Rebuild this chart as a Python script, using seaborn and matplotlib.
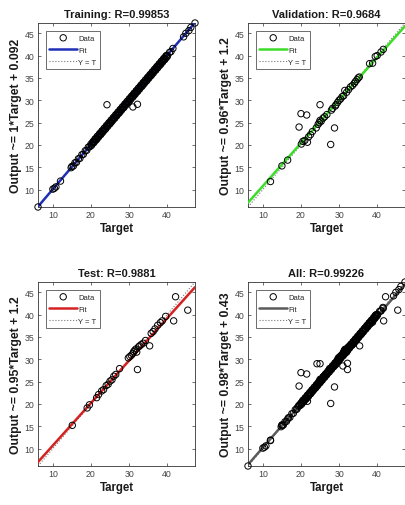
import matplotlib
matplotlib.use("Agg")
import numpy as np
import pandas as pd
import seaborn as sns
import matplotlib.pyplot as plt

# ---------------- data ----------------
train_target = [6.1, 10.0, 10.4, 10.8, 12.0, 14.8, 15.0, 15.4, 15.8, 16.2,
                16.7, 17.1, 17.6, 18.0, 18.5, 18.9, 19.3, 19.7, 20.0, 20.3,
                20.6, 20.9, 21.2, 21.5, 21.8, 22.1, 22.4, 22.7, 23.0, 23.3,
                23.6, 23.9, 24.2, 24.5, 24.8, 25.1, 25.4, 25.7, 26.0, 26.3,
                26.6, 26.9, 27.2, 27.5, 27.8, 28.1, 28.4, 28.7, 29.0, 29.3,
                29.6, 29.9, 30.2, 30.5, 30.8, 31.1, 31.4, 31.7, 32.0, 32.3,
                32.6, 32.9, 33.2, 33.5, 33.8, 34.1, 34.4, 34.7, 35.0, 35.3,
                35.6, 35.9, 36.2, 36.5, 36.8, 37.1, 37.4, 37.7, 38.0, 38.3,
                38.6, 38.9, 39.2, 39.5, 39.8, 40.1, 40.6, 41.0, 41.5, 44.3,
                44.9, 45.7, 46.2, 47.3, 24.2, 31.0, 32.2,
                20.15, 20.45, 20.75, 21.05, 21.35, 21.65, 21.95, 22.25, 22.55, 22.85,
                23.15, 23.45, 23.75, 24.05, 24.35, 24.65, 24.95, 25.25, 25.55, 25.85,
                26.15, 26.45, 26.75, 27.05, 27.35, 27.65, 27.95, 28.25, 28.55, 28.85,
                29.15, 29.45, 29.75, 30.05, 30.35, 30.65, 30.95, 31.25, 31.55, 31.85,
                32.15, 32.45, 32.75, 33.05, 33.35, 33.65, 33.95, 34.25, 34.55, 34.85,
                35.15, 35.45, 35.75, 36.05, 36.35, 36.65, 36.95, 37.25, 37.55, 37.85,
                38.15, 38.45, 38.75, 39.05, 39.35, 39.65, 39.95]
train_output = [6.1, 10.1, 10.3, 10.6, 11.9, 14.9, 15.2, 15.3, 16.0, 16.1,
                16.9, 17.0, 17.8, 17.9, 18.7, 18.8, 19.5, 19.6, 20.2, 20.2,
                20.8, 20.8, 21.4, 21.3, 22.0, 22.0, 22.6, 22.5, 23.2, 23.2,
                23.8, 23.7, 24.4, 24.4, 25.0, 24.9, 25.6, 25.6, 26.2, 26.1,
                26.8, 26.8, 27.4, 27.3, 28.0, 28.0, 28.6, 28.5, 29.2, 29.2,
                29.8, 29.7, 30.4, 30.4, 31.0, 30.9, 31.6, 31.6, 32.2, 32.1,
                32.8, 32.8, 33.4, 33.3, 34.0, 34.0, 34.6, 34.5, 35.2, 35.2,
                35.8, 35.7, 36.4, 36.4, 37.0, 36.9, 37.6, 37.6, 38.2, 38.1,
                38.8, 38.8, 39.4, 39.3, 40.0, 40.0, 40.7, 40.9, 41.6, 44.2,
                45.0, 45.6, 46.3, 47.3, 29.0, 28.5, 29.1,
                19.9, 20.6, 20.5, 21.3, 21.1, 21.9, 21.7, 22.5, 22.3, 23.1,
                22.9, 23.7, 23.5, 24.3, 24.1, 24.9, 24.7, 25.5, 25.3, 26.1,
                25.9, 26.7, 26.5, 27.3, 27.1, 27.9, 27.7, 28.5, 28.3, 29.1,
                28.9, 29.7, 29.5, 30.3, 30.1, 30.9, 30.7, 31.5, 31.3, 32.1,
                31.9, 32.7, 32.5, 33.3, 33.1, 33.9, 33.7, 34.5, 34.3, 35.1,
                34.9, 35.7, 35.5, 36.3, 36.1, 36.9, 36.7, 37.5, 37.3, 38.1,
                37.9, 38.7, 38.5, 39.3, 39.1, 39.9, 39.7]

val_target = [12.0, 15.0, 16.5, 19.5, 20.0, 20.1, 20.5, 21.0, 21.5, 21.7,
              22.0, 22.5, 23.0, 24.0, 24.5, 24.8, 25.0, 25.0, 25.3, 25.8,
              26.2, 26.8, 27.8, 28.0, 28.3, 28.8, 29.0, 29.2, 29.6, 30.0,
              30.4, 30.8, 31.2, 31.5, 32.0, 32.5, 33.0, 33.5, 34.0, 34.3,
              34.7, 35.0, 35.3, 38.0, 38.8, 39.5, 40.0, 41.0, 41.6]
val_output = [11.8, 15.3, 16.6, 24.0, 27.0, 20.2, 20.8, 21.0, 26.7, 20.6,
              21.8, 22.3, 23.0, 23.8, 24.6, 25.0, 29.0, 25.5, 25.3, 26.0,
              26.3, 26.8, 20.1, 27.8, 28.2, 23.8, 28.7, 29.0, 29.5, 30.0,
              30.3, 30.8, 31.0, 32.2, 31.8, 32.4, 33.0, 33.3, 33.8, 34.2,
              34.6, 35.0, 35.2, 38.2, 38.3, 39.8, 40.0, 40.8, 41.4]

test_target = [15.1, 19.0, 19.6, 21.5, 22.0, 22.8, 23.3, 24.0, 24.5, 25.0,
               25.5, 26.0, 26.5, 27.5, 29.8, 30.2, 30.6, 31.0, 31.2, 31.5,
               31.8, 32.0, 32.2, 32.5, 32.8, 33.2, 33.7, 34.3, 35.4, 35.8,
               36.3, 36.8, 37.5, 38.2, 38.7, 39.6, 41.7, 42.2, 45.4]
test_output = [15.2, 19.1, 19.8, 21.4, 22.1, 22.9, 23.2, 24.1, 24.4, 25.1,
               25.4, 26.2, 26.6, 27.9, 30.3, 30.6, 30.9, 31.3, 31.7, 32.0,
               32.3, 31.6, 27.7, 32.8, 33.0, 33.3, 33.6, 34.2, 33.0, 35.8,
               36.2, 36.8, 37.6, 38.2, 38.6, 39.6, 38.6, 44.0, 41.0]

titles = ["Training: R=0.99853", "Validation: R=0.9684",
          "Test: R=0.9881", "All: R=0.99226"]
fit_slopes = [1.0, 0.96, 0.95, 0.98]
fit_intercepts = [0.092, 1.2, 1.2, 0.43]
ylabels = ["Output ~= 1*Target + 0.092", "Output ~= 0.96*Target + 1.2",
           "Output ~= 0.95*Target + 1.2", "Output ~= 0.98*Target + 0.43"]
fit_colors = ["#1f2fb8", "#3ddc2a", "#d42222", "#5a5a5a"]
x_ticks = [10, 20, 30, 40]
y_ticks = [10, 15, 20, 25, 30, 35, 40, 45]

# ---------------- build frames ----------------
all_target = train_target + val_target + test_target
all_output = train_output + val_output + test_output
frames = [
    pd.DataFrame({"Target": train_target, "Output": train_output}),
    pd.DataFrame({"Target": val_target, "Output": val_output}),
    pd.DataFrame({"Target": test_target, "Output": test_output}),
    pd.DataFrame({"Target": all_target, "Output": all_output}),
]
lo = min(min(all_target), min(all_output))
hi = max(max(all_target), max(all_output))

# ---------------- style ----------------
sns.set_theme(style="ticks")
plt.rcParams["font.family"] = ["Liberation Sans", "DejaVu Sans"]
plt.rcParams["axes.edgecolor"] = "#333333"
plt.rcParams["axes.linewidth"] = 0.6
plt.rcParams["xtick.color"] = "#333333"
plt.rcParams["ytick.color"] = "#333333"

fig = plt.figure(figsize=(4.05, 5.06), dpi=100)
W, H = 405.0, 506.0
boxes = [(38, 24), (248, 24), (38, 283), (248, 283)]
aw, ah = 157.0, 184.0

for i, (bx, by) in enumerate(boxes):
    ax = fig.add_axes([bx / W, 1 - (by + ah) / H, aw / W, ah / H])
    df = frames[i]
    ax.axline((0, 0), slope=1, color="#777777", ls=":", lw=0.8,
              label="Y = T", zorder=2)
    ax.axline((0, fit_intercepts[i]), slope=fit_slopes[i],
              color=fit_colors[i], lw=1.8, label="Fit", zorder=3)
    sns.scatterplot(data=df, x="Target", y="Output", ax=ax, marker="o",
                    s=21, facecolor="none", edgecolor="black",
                    linewidth=0.7, label="Data", zorder=4, legend=False,
                    clip_on=False)
    ax.set_xlim(lo, hi)
    ax.set_ylim(lo, hi)
    ax.set_xticks(x_ticks)
    ax.set_yticks(y_ticks)
    ax.tick_params(direction="in", length=2.5, width=0.5, labelsize=6.3,
                   top=True, right=True, pad=2.5, labelcolor="#444444")
    for sp in ax.spines.values():
        sp.set_visible(True)
    ax.set_title(titles[i], fontsize=8, fontweight="bold", pad=4.5,
                 color="#1a1a1a")
    ax.set_xlabel("Target", fontsize=8.3, fontweight="bold", labelpad=2,
                  color="#1a1a1a")
    ax.set_ylabel(ylabels[i], fontsize=8.8, fontweight="bold", labelpad=2,
                  color="#1a1a1a")
    handles, labels = ax.get_legend_handles_labels()
    order = [labels.index("Data"), labels.index("Fit"), labels.index("Y = T")]
    leg = ax.legend([handles[k] for k in order], [labels[k] for k in order],
                    loc="upper left", fontsize=5.5, frameon=True, fancybox=False,
                    edgecolor="#555555", framealpha=1, handlelength=3.6,
                    handletextpad=0.15, labelspacing=0.6, borderpad=0.5,
                    borderaxespad=1.0)
    leg.set_zorder(10)
    leg.get_frame().set_linewidth(0.6)

fig.savefig("out.png", dpi=100, facecolor="white")
